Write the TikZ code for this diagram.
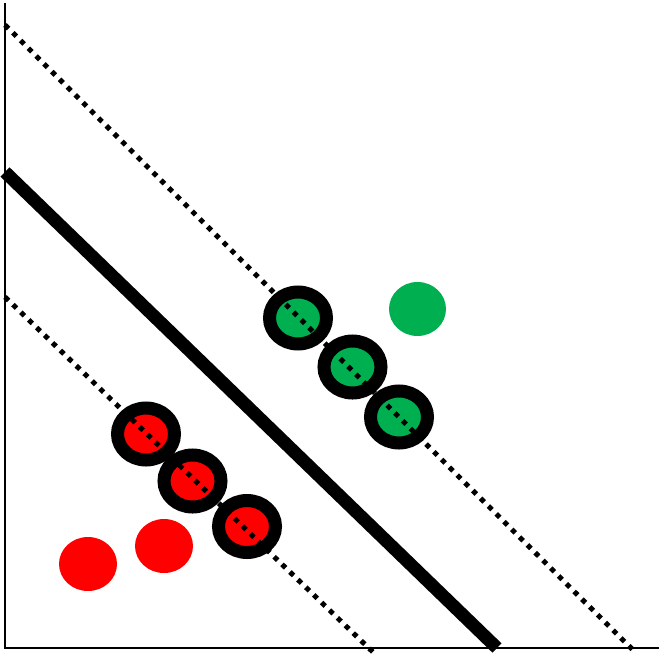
\documentclass[tikz,border=0pt]{standalone}
\usepackage{tikz}
\definecolor{ptGreen}{RGB}{0, 176, 80}
\definecolor{ptRed}{RGB}{255, 0, 0}

\begin{document}
\begin{tikzpicture}[x=1pt, y=-1pt,
    margin/.style={line width=5pt, dash pattern=on 5pt off 6pt},
    ring/.style={line width=13pt},
    hyper/.style={line width=13pt}]
      \useasboundingbox (0,0) rectangle (659,656);

      % points
      \fill[ptGreen] (298,318) ellipse (28.5 and 26);
      \fill[ptGreen] (352.5,367) ellipse (28.5 and 26);
      \fill[ptGreen] (399,417) ellipse (28.5 and 26);
      \fill[ptGreen] (417.5,309) ellipse (28.5 and 27);

      \fill[ptRed] (146,434) ellipse (28.5 and 26);
      \fill[ptRed] (192.5,481) ellipse (28.5 and 26);
      \fill[ptRed] (247,526.5) ellipse (28.5 and 26);
      \fill[ptRed] (164,546) ellipse (29 and 27);
      \fill[ptRed] (88,564) ellipse (29 and 27);

      % margins
      \draw[margin] (5,25) -- (635,652);
      \draw[margin] (5,297) -- (377,656);

      % support vectors
      \draw[ring] (298,318) ellipse (28.5 and 26);
      \draw[ring] (352.5,367) ellipse (28.5 and 26);
      \draw[ring] (399,417) ellipse (28.5 and 26);
      \draw[ring] (146,434) ellipse (28.5 and 26);
      \draw[ring] (192.5,481) ellipse (28.5 and 26);
      \draw[ring] (247,526.5) ellipse (28.5 and 26);

      % separating line
      \draw[hyper] (5,172) -- (497,648);

      % axes
      \draw[line width=2pt] (5,3) -- (5,648) -- (659,648);
    \end{tikzpicture}
\end{document}
